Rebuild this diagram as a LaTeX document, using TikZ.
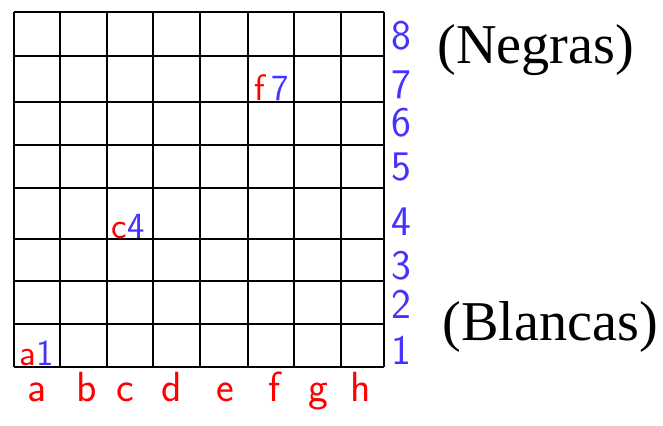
\documentclass[tikz,border=0pt]{standalone}
\usepackage{fontspec}
\usepackage{xcolor}
\usetikzlibrary{positioning}
\newfontfamily\sidefont{Liberation Serif}
\definecolor{handred}{RGB}{255,0,0}
\definecolor{handblue}{RGB}{70,50,255}
\tikzset{
  board/.style={line width=1.1pt, black},
  fileno/.style={handred, font=\sffamily\fontsize{24}{28}\selectfont, inner sep=0pt, anchor=base},
  rankno/.style={handblue, font=\sffamily\fontsize{24}{28}\selectfont, inner sep=0pt},
  cellmark/.style={font=\sffamily\fontsize{21}{24}\selectfont, inner sep=0pt},
  sidelabel/.style={font=\sidefont\fontsize{32}{36}\selectfont, inner sep=0pt}
}
\begin{document}
\begin{tikzpicture}[x=0.02cm, y=-0.02cm]
\useasboundingbox (0,0) rectangle (663,426);
% tablero
\foreach \x in {14,60,107,153,200,248,294,341,384}
  \draw[board] (\x,12) -- (\x,367);
\foreach \y in {12,56,102,145,188,239,281,324,367}
  \draw[board] (14,\y) -- (384,\y);
% columnas y filas
\foreach \c/\x in {a/37,b/87,c/125,d/172,e/225,f/275,g/318,h/361}
  \node[fileno] (col\c) at (\x,401) {\c};
\foreach \r/\y in {8/36,7/85,6/123,5/167,4/222,3/266,2/304,1/350}
  \node[rankno] (row\r) at (401,\y) {\r};
% casillas marcadas
\node[cellmark, anchor=base east] (sqa1) at (54,365) {\textcolor{handred}{a}\textcolor{handblue}{1}};
\node[cellmark, anchor=base east] (sqc4) at (145,238) {\textcolor{handred}{c}\textcolor{handblue}{4}};
\node[cellmark, anchor=base east] (sqf7) at (289,100) {\textcolor{handred}{f}\,\textcolor{handblue}{7}};
% bandos
\node[sidelabel, anchor=base west] (negras) at (437,63) {(Negras)};
\node[sidelabel, anchor=base west] (blancas) at (442,340) {(Blancas)};
\end{tikzpicture}
\end{document}
